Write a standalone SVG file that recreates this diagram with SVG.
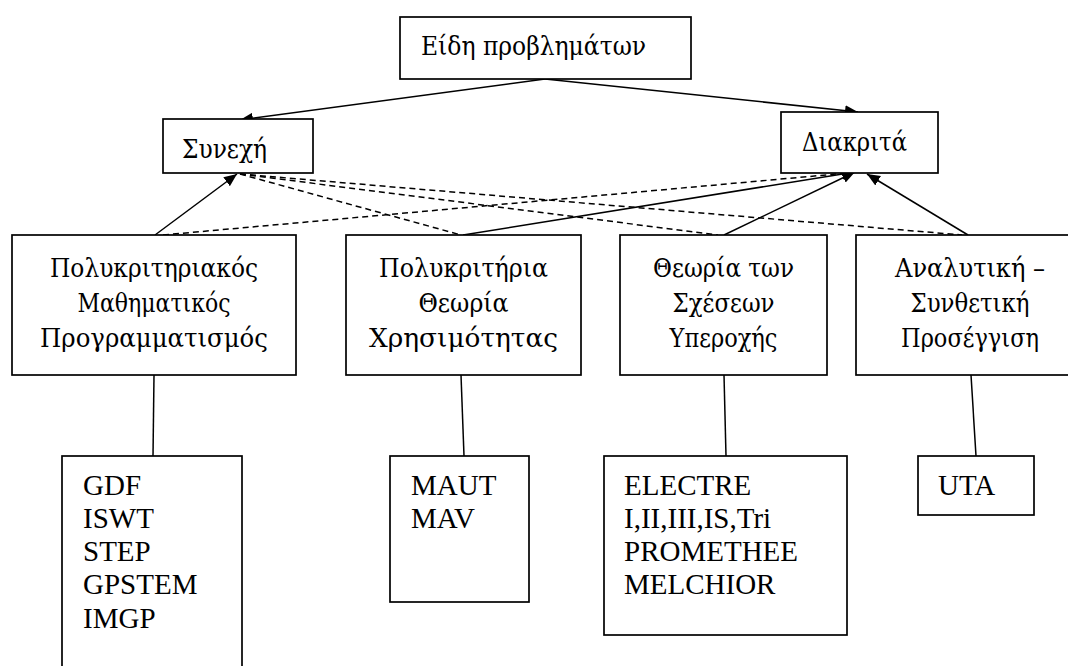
<svg xmlns="http://www.w3.org/2000/svg" width="1068" height="666" viewBox="0 0 1068 666">
<style>
.box{fill:#fff;stroke:#000;stroke-width:1.7}
.t{font-family:"Liberation Serif","Times New Roman",serif;font-size:29px;fill:#000}
.g{font-family:"DejaVu Serif","Liberation Serif",serif;font-size:26px;fill:#000}
.c{text-anchor:middle}
.ln{stroke:#000;stroke-width:1.5;fill:none}
.ar{stroke:#000;stroke-width:1.5;fill:none;marker-end:url(#ah)}
.ds{stroke:#000;stroke-width:1.5;fill:none;stroke-dasharray:6 4}
</style>
<defs>
<marker id="ah" markerUnits="userSpaceOnUse" markerWidth="14" markerHeight="12" refX="13" refY="5.5" orient="auto">
<path d="M0,0 L13,5.5 L0,11 z" fill="#000"/>
</marker>
</defs>
<rect width="1068" height="666" fill="#fff"/>
<g id="connectors">
<line class="ar" x1="545" y1="79" x2="240" y2="120"/>
<line class="ar" x1="545" y1="79" x2="858" y2="112"/>
<line class="ar" x1="155" y1="235" x2="237" y2="174"/>
<line class="ar" x1="463" y1="235" x2="855" y2="172"/>
<line class="ar" x1="724" y1="235" x2="855" y2="172"/>
<line class="ar" x1="968" y1="235" x2="867" y2="174"/>
<line class="ds" x1="163" y1="235" x2="848" y2="173"/>
<line class="ds" x1="240" y1="174" x2="461" y2="235"/>
<line class="ds" x1="240" y1="174" x2="718" y2="235"/>
<line class="ds" x1="240" y1="174" x2="962" y2="235"/>
<line class="ln" x1="154" y1="375" x2="153" y2="456"/>
<line class="ln" x1="461" y1="375" x2="464" y2="456"/>
<line class="ln" x1="724" y1="375" x2="726" y2="456"/>
<line class="ln" x1="971" y1="375" x2="976" y2="456"/>
</g>
<g id="top">
<rect class="box" x="400" y="17" width="291" height="62"/>
<text class="g" x="421" y="55" textLength="225" lengthAdjust="spacingAndGlyphs">Είδη προβλημάτων</text>
</g>
<g id="synexi">
<rect class="box" x="163" y="119" width="150" height="54"/>
<text class="g" x="182" y="158" textLength="85" lengthAdjust="spacingAndGlyphs">Συνεχή</text>
</g>
<g id="diakrita">
<rect class="box" x="781" y="112" width="157" height="61"/>
<text class="g" x="802" y="151" textLength="105" lengthAdjust="spacingAndGlyphs">Διακριτά</text>
</g>
<g id="b1">
<rect class="box" x="12" y="235" width="284" height="140"/>
<text class="g c" x="154" y="277" textLength="208" lengthAdjust="spacingAndGlyphs">Πολυκριτηριακός</text>
<text class="g c" x="154" y="312" textLength="153" lengthAdjust="spacingAndGlyphs">Μαθηματικός</text>
<text class="g c" x="154" y="347" textLength="228" lengthAdjust="spacingAndGlyphs">Προγραμματισμός</text>
</g>
<g id="b2">
<rect class="box" x="346" y="235" width="235" height="140"/>
<text class="g c" x="463.5" y="277" textLength="169" lengthAdjust="spacingAndGlyphs">Πολυκριτήρια</text>
<text class="g c" x="463.5" y="312" textLength="90" lengthAdjust="spacingAndGlyphs">Θεωρία</text>
<text class="g c" x="463.5" y="347" textLength="189" lengthAdjust="spacingAndGlyphs">Χρησιμότητας</text>
</g>
<g id="b3">
<rect class="box" x="620" y="235" width="207" height="140"/>
<text class="g c" x="723.5" y="277" textLength="141" lengthAdjust="spacingAndGlyphs">Θεωρία των</text>
<text class="g c" x="723.5" y="312" textLength="102" lengthAdjust="spacingAndGlyphs">Σχέσεων</text>
<text class="g c" x="723.5" y="347" textLength="108" lengthAdjust="spacingAndGlyphs">Υπεροχής</text>
</g>
<g id="b4">
<rect class="box" x="856" y="235" width="230" height="140"/>
<text class="g c" x="970" y="277" textLength="150" lengthAdjust="spacingAndGlyphs">Αναλυτική –</text>
<text class="g c" x="970" y="312" textLength="119" lengthAdjust="spacingAndGlyphs">Συνθετική</text>
<text class="g c" x="970" y="347" textLength="138" lengthAdjust="spacingAndGlyphs">Προσέγγιση</text>
</g>
<g id="m1">
<rect class="box" x="62" y="456" width="180" height="220"/>
<text class="t" x="83" y="494.5">GDF</text>
<text class="t" x="83" y="527.8">ISWT</text>
<text class="t" x="83" y="561">STEP</text>
<text class="t" x="83" y="594.4">GPSTEM</text>
<text class="t" x="83" y="627.7">IMGP</text>
</g>
<g id="m2">
<rect class="box" x="390" y="456" width="139" height="146"/>
<text class="t" x="411" y="494.5">MAUT</text>
<text class="t" x="411" y="527.8">MAV</text>
</g>
<g id="m3">
<rect class="box" x="604" y="456" width="243" height="179"/>
<text class="t" x="624" y="494.5">ELECTRE</text>
<text class="t" x="624" y="527.8">I,II,III,IS,Tri</text>
<text class="t" x="624" y="561">PROMETHEE</text>
<text class="t" x="624" y="594.4">MELCHIOR</text>
</g>
<g id="m4">
<rect class="box" x="918" y="456" width="116" height="59"/>
<text class="t" x="938" y="494.5">UTA</text>
</g>
</svg>
